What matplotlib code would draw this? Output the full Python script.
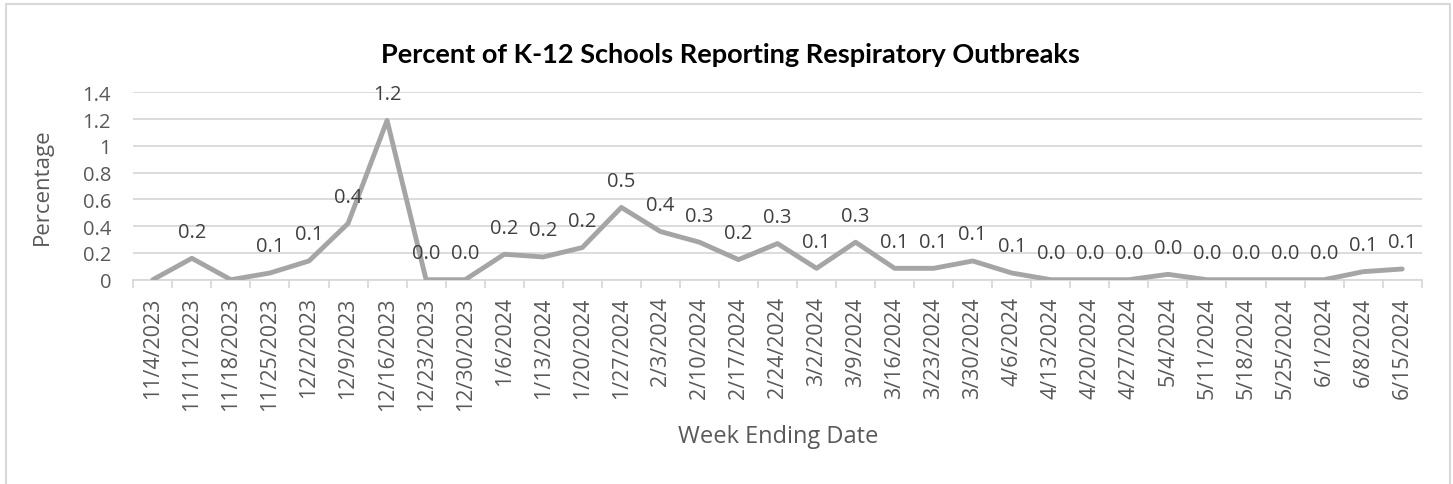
import matplotlib
matplotlib.use("Agg")
import matplotlib.pyplot as plt
from matplotlib.patches import Rectangle

# Dados
semanas = [
    "11/4/2023", "11/11/2023", "11/18/2023", "11/25/2023", "12/2/2023", "12/9/2023",
    "12/16/2023", "12/23/2023", "12/30/2023", "1/6/2024", "1/13/2024", "1/20/2024",
    "1/27/2024", "2/3/2024", "2/10/2024", "2/17/2024", "2/24/2024", "3/2/2024",
    "3/9/2024", "3/16/2024", "3/23/2024", "3/30/2024", "4/6/2024", "4/13/2024",
    "4/20/2024", "4/27/2024", "5/4/2024", "5/11/2024", "5/18/2024", "5/25/2024",
    "6/1/2024", "6/8/2024", "6/15/2024",
]
percentual = [
    0.0, 0.16, 0.0, 0.05, 0.14, 0.42,
    1.19, 0.0, 0.0, 0.19, 0.17, 0.24,
    0.54, 0.36, 0.28, 0.15, 0.27, 0.085,
    0.28, 0.085, 0.085, 0.14, 0.05, 0.0,
    0.0, 0.0, 0.04, 0.0, 0.0, 0.0,
    0.0, 0.06, 0.08,
]
# rótulos de dados (sem rótulo nos dois primeiros zeros)
rotulos = [
    None, "0.2", None, "0.1", "0.1", "0.4",
    "1.2", "0.0", "0.0", "0.2", "0.2", "0.2",
    "0.5", "0.4", "0.3", "0.2", "0.3", "0.1",
    "0.3", "0.1", "0.1", "0.1", "0.1", "0.0",
    "0.0", "0.0", "0.0", "0.0", "0.0", "0.0",
    "0.0", "0.1", "0.1",
]
y_ticks = [0, 0.2, 0.4, 0.6, 0.8, 1, 1.2, 1.4]
y_ticklabels = ["0", "0.2", "0.4", "0.6", "0.8", "1", "1.2", "1.4"]

plt.rcParams["font.family"] = ["Open Sans", "DejaVu Sans"]
cinza_texto = "#595959"
cinza_grade = "#D9D9D9"

fig = plt.figure(figsize=(14.53, 4.85), dpi=100)
fig.patches.append(Rectangle((6 / 1453, -0.05), 1444 / 1453, 1.05 - 5 / 485,
                             transform=fig.transFigure, fill=False,
                             edgecolor=cinza_grade, linewidth=1.5))

ax = fig.add_axes([133.3 / 1453, 1 - 280.7 / 485, (1421.7 - 133.3) / 1453, (280.7 - 93.3) / 485])
x = list(range(len(semanas)))
ax.plot(x, percentual, color="#A5A5A5", linewidth=3.5, solid_capstyle="round",
        solid_joinstyle="round", zorder=3)

for xi, yi, txt in zip(x, percentual, rotulos):
    if txt is None:
        continue
    ax.annotate(txt, (xi, yi), xytext=(0, 12), textcoords="offset points",
                ha="center", va="bottom", fontsize=14.5, color="#404040", zorder=4)

ax.set_xlim(-0.5, len(semanas) - 0.5)
ax.set_ylim(0, 1.4)
ax.set_yticks(y_ticks)
ax.set_yticklabels(y_ticklabels)
ax.yaxis.grid(True, color=cinza_grade, linewidth=1.3)
ax.set_axisbelow(True)
ax.tick_params(axis="y", length=0, labelsize=14.5, labelcolor=cinza_texto, pad=16)

ax.set_xticks(x)
ax.set_xticklabels(semanas, rotation=90, fontsize=15.5, color=cinza_texto)
ax.tick_params(axis="x", length=0, pad=12)
ax.set_xticks([i - 0.5 for i in range(len(semanas) + 1)], minor=True)
ax.tick_params(axis="x", which="minor", length=6, color=cinza_grade, width=1.3)

for lado in ["top", "right", "left"]:
    ax.spines[lado].set_visible(False)
ax.spines["bottom"].set_color(cinza_grade)
ax.spines["bottom"].set_linewidth(1.3)

# títulos dos eixos (centralizados na área do gráfico, como no Excel)
fig.text(42 / 1453, 1 - 187 / 485, "Percentage", rotation=90, ha="center", va="center",
         fontsize=16, color=cinza_texto)
fig.text(778 / 1453, 1 - 437 / 485, "Week Ending Date", ha="center", va="center",
         fontsize=17, color=cinza_texto)
fig.text(730 / 1453, 1 - 55 / 485, "Percent of K-12 Schools Reporting Respiratory Outbreaks",
         ha="center", va="center", fontsize=19.5, fontweight="bold", color="black",
         family=["Lato", "DejaVu Sans"])

fig.savefig("out.png", dpi=100)
